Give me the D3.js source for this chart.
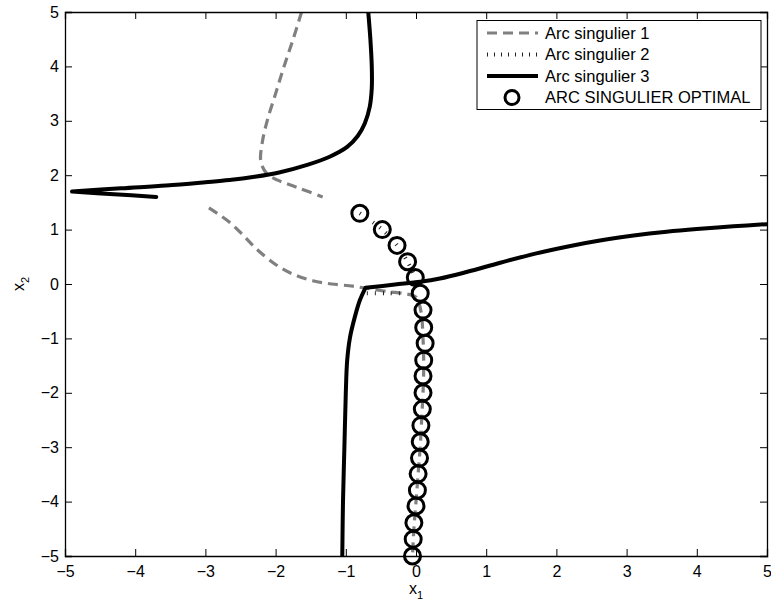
<!DOCTYPE html>
<html>
<head>
<meta charset="utf-8">
<script src="https://cdn.jsdelivr.net/npm/d3@7"></script>
<style>
  body { margin: 0; background: #fff; }
  svg { display: block; font-family: "Liberation Sans", Arial, Helvetica, sans-serif; }
</style>
</head>
<body>
<svg id="chart" width="771" height="605"></svg>
<script>
// ---- data ----
const xTicks = [-5, -4, -3, -2, -1, 0, 1, 2, 3, 4, 5];
const yTicks = [-5, -4, -3, -2, -1, 0, 1, 2, 3, 4, 5];
const seriesNames = ["Arc singulier 1", "Arc singulier 2", "Arc singulier 3", "ARC SINGULIER OPTIMAL"];

// Arc singulier 1 (grey dashed), branches separated by null
const arc1 = [
  [-1.63, 5.0], [-1.75, 4.5], [-1.88, 4.0], [-2.0, 3.5], [-2.12, 3.0], [-2.19, 2.6], [-2.21, 2.25],
  [-2.12, 2.02], [-1.97, 1.91], [-1.66, 1.76], [-1.33, 1.6],
  null,
  [-2.95, 1.4], [-2.66, 1.14], [-2.45, 0.88], [-2.26, 0.63], [-1.99, 0.35], [-1.75, 0.18], [-1.47, 0.06],
  [-1.2, 0.0], [-0.9, -0.04], [-0.7, -0.08], [-0.4, -0.14], [-0.15, -0.18], [0.0, -0.24],
  [0.07, -0.5], [0.1, -1.0], [0.11, -1.5], [0.1, -2.0], [0.08, -2.5], [0.06, -3.0], [0.03, -3.5],
  [0.0, -4.0], [-0.03, -4.5], [-0.05, -5.0]
];

// Arc singulier 2 (dotted)
const arc2 = [
  [-0.8, 1.3], [-0.48, 1.0], [-0.27, 0.71], [-0.12, 0.41], [-0.01, 0.12],
  null,
  [-0.7, -0.17], [-0.4, -0.17], [-0.13, -0.17]
];

// Arc singulier 3 (solid black), smooth pieces separated by null (corner points repeated)
const arc3 = [
  [-0.68, 5.0], [-0.65, 4.5], [-0.63, 4.0], [-0.63, 3.6], [-0.66, 3.25], [-0.73, 2.95], [-0.83, 2.72],
  [-0.98, 2.52], [-1.23, 2.34], [-1.55, 2.19], [-1.95, 2.05], [-2.3, 1.97], [-2.66, 1.91], [-3.0, 1.87],
  [-3.56, 1.81], [-4.2, 1.76], [-4.9, 1.7],
  null,
  [-4.9, 1.7], [-4.3, 1.65], [-3.7, 1.6],
  null,
  [-1.05, -5.0], [-1.04, -4.0], [-1.02, -3.0], [-1.0, -2.0], [-0.98, -1.4], [-0.94, -0.98],
  [-0.87, -0.6], [-0.8, -0.3], [-0.72, -0.07],
  null,
  [-0.72, -0.07], [-0.3, -0.01], [0.06, 0.04], [0.34, 0.1],
  [0.72, 0.22], [1.2, 0.39], [1.67, 0.55], [2.2, 0.7], [2.62, 0.8], [3.1, 0.89], [3.57, 0.96],
  [4.0, 1.01], [4.52, 1.06], [5.0, 1.1]
];

// ARC SINGULIER OPTIMAL (circle markers)
const optX = [-0.8, -0.48, -0.27, -0.12, -0.01, 0.06, 0.10, 0.11, 0.13, 0.11, 0.10, 0.10, 0.09, 0.07,
              0.06, 0.05, 0.03, 0.02, 0.0, -0.03, -0.04, -0.05];
const optY = [1.3, 1.0, 0.71, 0.41, 0.12, -0.17, -0.48, -0.80, -1.09, -1.40, -1.69, -2.0, -2.3, -2.6,
              -2.9, -3.2, -3.49, -3.79, -4.08, -4.39, -4.69, -5.0];

// ---- layout ----
const L = 65, T = 12, W = 702, H = 544;
const FONT = "'Liberation Sans', Arial, Helvetica, sans-serif";
const svg = d3.select("#chart");
const x = d3.scaleLinear().domain([-5, 5]).range([L, L + W]);
const y = d3.scaleLinear().domain([-5, 5]).range([T + H, T]);

svg.append("defs").append("clipPath").attr("id", "plotclip")
  .append("rect").attr("x", L).attr("y", T).attr("width", W).attr("height", H);

const plot = svg.append("g").attr("clip-path", "url(#plotclip)");

const smooth = d3.line().defined(d => d !== null).x(d => x(d[0])).y(d => y(d[1]))
  .curve(d3.curveCatmullRom.alpha(0.5));

plot.append("path").datum(arc1).attr("d", smooth)
  .attr("fill", "none").attr("stroke", "#808080").attr("stroke-width", 3.2)
  .attr("stroke-dasharray", "10,6");

plot.append("path").datum(arc2).attr("d", smooth)
  .attr("fill", "none").attr("stroke", "#222").attr("stroke-width", 4)
  .attr("stroke-dasharray", "1,7");

plot.append("path").datum(arc3).attr("d", smooth)
  .attr("fill", "none").attr("stroke", "#000").attr("stroke-width", 4)
  .attr("stroke-linejoin", "round").attr("stroke-linecap", "round");

const optPts = optX.map((v, i) => [v, optY[i]]);
svg.append("g").selectAll("circle").data(optPts).join("circle")
  .attr("cx", d => x(d[0])).attr("cy", d => y(d[1])).attr("r", 8)
  .attr("fill", "none").attr("stroke", "#000").attr("stroke-width", 3);

// ---- axes (ticks inside, all four sides) ----
const tickLen = 7;
const fmt = d => d < 0 ? "\u2212" + Math.abs(d) : d;
const axB = d3.axisBottom(x).tickValues(xTicks).tickSize(-tickLen).tickPadding(10).tickFormat(fmt);
const axT = d3.axisTop(x).tickValues(xTicks).tickSize(-tickLen).tickFormat("");
const axL = d3.axisLeft(y).tickValues(yTicks).tickSize(-tickLen).tickPadding(6).tickFormat(fmt);
const axR = d3.axisRight(y).tickValues(yTicks).tickSize(-tickLen).tickFormat("");

function style(g) {
  g.select(".domain").attr("stroke", "#000").attr("stroke-width", 1.3);
  g.selectAll(".tick line").attr("stroke", "#000").attr("stroke-width", 1);
  g.selectAll(".tick text").attr("fill", "#000").style("font-size", "16px").style("font-family", FONT);
}
svg.append("g").attr("transform", `translate(0,${T + H})`).call(axB).call(style);
svg.append("g").attr("transform", `translate(0,${T})`).call(axT).call(style);
svg.append("g").attr("transform", `translate(${L},0)`).call(axL).call(style);
svg.append("g").attr("transform", `translate(${L + W},0)`).call(axR).call(style);

// axis labels
const xl = svg.append("text").attr("x", x(0)).attr("y", 594).attr("text-anchor", "middle")
  .style("font-size", "16px");
xl.append("tspan").text("x");
xl.append("tspan").attr("dy", 5).style("font-size", "11px").text("1");

const yl = svg.append("text").attr("transform", `translate(24,${y(0)}) rotate(-90)`)
  .attr("text-anchor", "middle").style("font-size", "16px");
yl.append("tspan").text("x");
yl.append("tspan").attr("dy", 5).style("font-size", "11px").text("2");

// ---- legend ----
const lg = svg.append("g");
const lx0 = 477, ly0 = 20.5, lw = 284, lh = 89;
lg.append("rect").attr("x", lx0).attr("y", ly0).attr("width", lw).attr("height", lh)
  .attr("fill", "#fff").attr("stroke", "#000").attr("stroke-width", 1);
const rowY = i => ly0 + 12.5 + i * 21.5;
const styles = [
  {stroke: "#808080", w: 3.2, dash: "10,6"},
  {stroke: "#222", w: 4, dash: "1,6"},
  {stroke: "#000", w: 4, dash: null},
  null
];
seriesNames.forEach((name, i) => {
  const yy = rowY(i);
  const s = styles[i];
  if (s) {
    lg.append("line").attr("x1", 487).attr("x2", 538).attr("y1", yy).attr("y2", yy)
      .attr("stroke", s.stroke).attr("stroke-width", s.w)
      .attr("stroke-dasharray", s.dash);
  } else {
    lg.append("circle").attr("cx", 512).attr("cy", yy).attr("r", 7)
      .attr("fill", "none").attr("stroke", "#000").attr("stroke-width", 3);
  }
  lg.append("text").attr("x", 545).attr("y", yy).attr("dy", "0.35em")
    .style("font-size", "16.5px").text(name);
});
</script>
</body>
</html>
